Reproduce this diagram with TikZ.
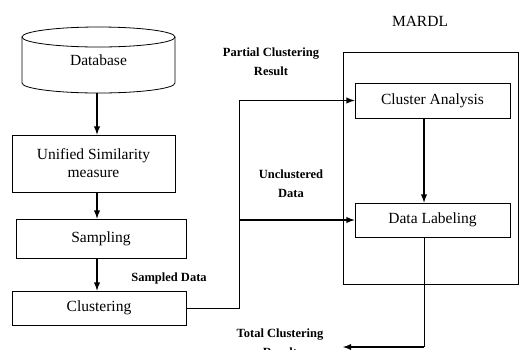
\documentclass[tikz,border=0pt]{standalone}
\usepackage{fontspec}
\setmainfont{Liberation Serif}
\usetikzlibrary{arrows,calc}

\begin{document}
\begin{tikzpicture}[x=1pt,y=-1pt,
  box/.style={draw,line width=.8pt,inner sep=0pt,align=center,font=\fontsize{15.5}{18}\selectfont},
  lbl/.style={align=center,font=\bfseries\fontsize{12.5}{19}\selectfont},
  flow/.style={line width=1.8pt,-latex},
  wire/.style={line width=.8pt}]
\useasboundingbox (0,0) rectangle (519,349);

\coordinate (s) at (97,0);
\coordinate (j) at (239,0);
\coordinate (k) at (424,0);
\coordinate (out) at (343,347);

\draw[wire] (98.5,37) ellipse [x radius=76.5,y radius=10];
\draw[wire] (22,37) -- (22,83) arc [start angle=180,end angle=0,x radius=76.5,y radius=10] -- (175,37);
\node[box,draw=none,minimum width=153pt,minimum height=66pt] (db) at (98.5,60) {Database};
\node[box,minimum width=163pt,minimum height=57pt] (usm) at (93.5,163.5) {Unified Similarity\\measure};
\node[box,minimum width=170pt,minimum height=39pt] (smp) at (101,238.5) {Sampling};
\node[box,minimum width=174pt,minimum height=34pt] (clu) at (99,308) {Clustering};

\node[box,minimum width=175pt,minimum height=232pt] (mardl) at (430.5,168) {};
\node[box,minimum width=155pt,minimum height=35pt] (ca) at (432.5,100.5) {Cluster Analysis};
\node[box,minimum width=155pt,minimum height=34pt] (dl) at (432.5,220) {Data Labeling};

\node[font=\fontsize{15.5}{18}\selectfont] (mt) at (420,21) {MARDL};
\node[lbl] (pcr) at (271,62) {Partial Clustering\\Result};
\node[lbl] (ucd) at (291,184) {Unclustered\\Data};
\node[lbl] (sd) at (169,278) {Sampled Data};
\node[lbl,anchor=north] (tcr) at (280,325) {Total Clustering\\Result};

\draw[flow] (db.south -| s) -- (usm.north -| s);
\draw[flow] (usm.south -| s) -- (smp.north -| s);
\draw[flow] (smp.south -| s) -- (clu.north -| s);

\draw[wire] (clu.east) -| (j |- ca.west);
\draw[flow] (j |- ca.west) -- (ca.west);
\draw[flow] (j |- dl.west) -- (dl.west);

\draw[flow] (ca.south -| k) -- (dl.north -| k);
\draw[wire] (dl.south -| k) -- (k |- out);
\draw[flow] (k |- out) -- (out);

\end{tikzpicture}
\end{document}
